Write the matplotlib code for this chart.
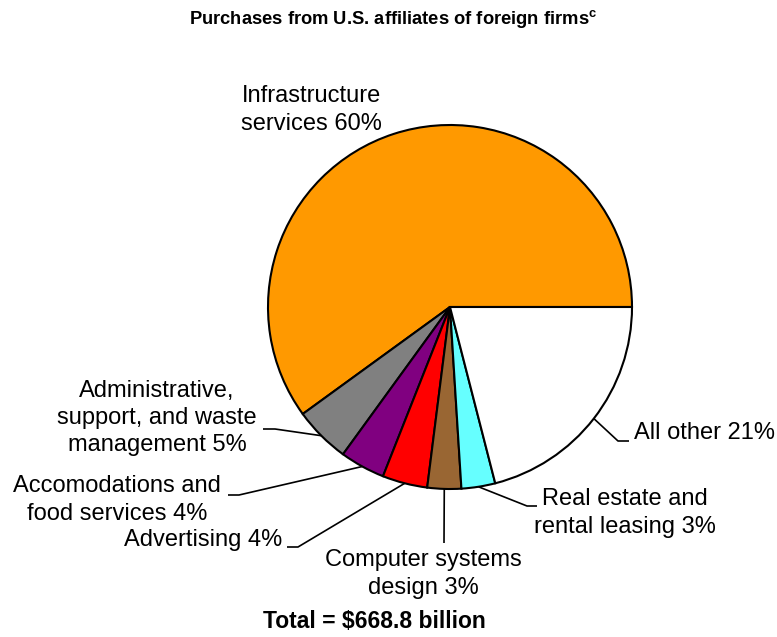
import numpy as np
import matplotlib
matplotlib.use("Agg")
import matplotlib.pyplot as plt

plt.rcParams['font.family'] = ['Liberation Sans', 'DejaVu Sans']
plt.rcParams['mathtext.fontset'] = 'custom'
plt.rcParams['mathtext.rm'] = 'Liberation Sans'
plt.rcParams['mathtext.bf'] = 'Liberation Sans:bold'

# 数据
categories = ['Infrastructure\nservices', 'Administrative,\nsupport, and waste\nmanagement',
              'Accomodations and\nfood services', 'Advertising', 'Computer systems\ndesign',
              'Real estate and\nrental leasing', 'All other']
shares = [60, 5, 4, 4, 3, 3, 21]
colors = ['#FF9900', '#808080', '#800080', '#FF0000', '#996633', '#66FFFF', '#FFFFFF']
title = 'Purchases from U.S. affiliates of foreign firms'
total_text = 'Total = $668.8 billion'

W, H = 777, 637
fig = plt.figure(figsize=(W / 100, H / 100), dpi=100)
ax = fig.add_axes([0, 0, 1, 1])

def Y(p):
    # 像素坐标(从上往下) -> 数据坐标
    return H - p

cx, cy, r = 450, Y(307), 182
wedges, _ = ax.pie(shares, colors=colors, startangle=0, counterclock=True,
                   center=(cx, cy), radius=r, frame=True,
                   wedgeprops=dict(edgecolor='black', linewidth=1.5))
ax.set_xlim(0, W)
ax.set_ylim(0, H)
ax.set_aspect('equal')
ax.axis('off')

# 标签布局: 文字位置, 对齐, 拐点, 终点 (像素)
layout = [
    dict(xy=(311, 110), ha='center', elbow=None, end=None),
    dict(xy=(157, 418), ha='center', elbow=(275, 429), end=(263, 429)),
    dict(xy=(117, 500), ha='center', elbow=(239, 495), end=(228, 495)),
    dict(xy=(282, 540), ha='right', elbow=(298, 547), end=(287, 547)),
    dict(xy=(423, 574), ha='center', elbow=(444, 543), end=(444, 543)),
    dict(xy=(625, 513), ha='center', elbow=(527, 506), end=(537, 506)),
    dict(xy=(634, 433), ha='left', elbow=(618, 441), end=(629, 441)),
]

for w, cat, val, lay in zip(wedges, categories, shares, layout):
    tx, ty = lay['xy']
    ax.text(tx, Y(ty), f'{cat} {val}%', ha=lay['ha'], va='center',
            fontsize=17, linespacing=1.3, color='black')
    if lay['elbow'] is not None:
        mid = np.deg2rad((w.theta1 + w.theta2) / 2)
        px, py = cx + r * np.cos(mid), cy + r * np.sin(mid)
        ex, ey = lay['elbow']
        qx, qy = lay['end']
        ax.plot([px, ex, qx], [py, Y(ey), Y(qy)], color='black', lw=1.2,
                solid_capstyle='butt')

ax.text(393, Y(19), title + r'$^{\mathbf{c}}$', ha='center', va='center',
        fontsize=13.2, fontweight='bold')
ax.text(374, Y(622), total_text.replace('$', r'\$'), ha='center', va='center',
        fontsize=16.5, fontweight='bold')

fig.savefig('out.png', dpi=100)
